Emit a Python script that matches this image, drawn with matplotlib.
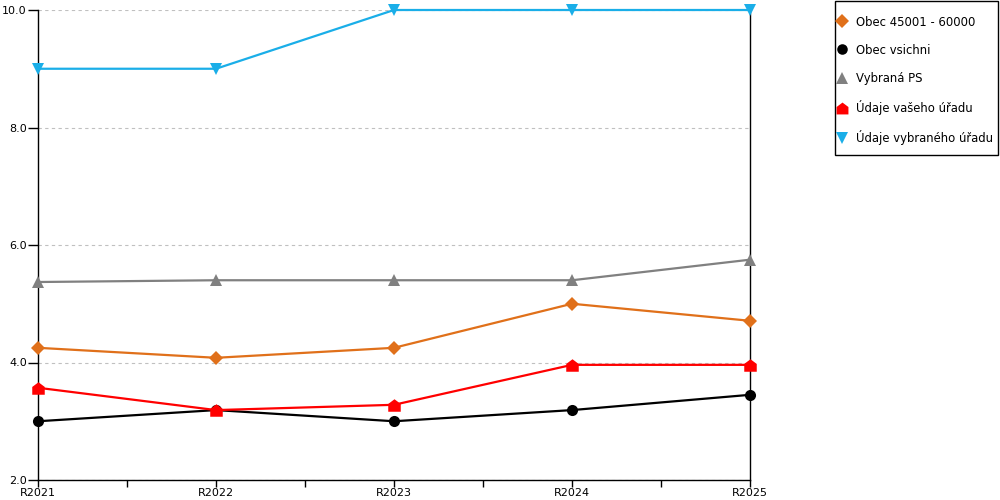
import matplotlib
matplotlib.use('Agg')
import matplotlib.pyplot as plt
import numpy as np
from matplotlib.path import Path
from matplotlib.lines import Line2D
from matplotlib.patches import Rectangle

plt.rcParams['font.family'] = ['DejaVu Sans']
plt.rcParams['font.size'] = 8

years = ['R2021', 'R2022', 'R2023', 'R2024', 'R2025']
obec_45001 = [4.25, 4.08, 4.25, 5.0, 4.71]
obec_vsichni = [3.0, 3.19, 3.0, 3.19, 3.45]
vybrana_ps = [5.37, 5.4, 5.4, 5.4, 5.75]
udaje_vaseho = [3.57, 3.19, 3.28, 3.96, 3.96]
udaje_vybraneho = [9.0, 9.0, 10.0, 10.0, 10.0]

# house shaped marker for red series
house = Path([(-1, -1), (1, -1), (1, 0.25), (0, 1), (-1, 0.25), (-1, -1)],
             [Path.MOVETO, Path.LINETO, Path.LINETO, Path.LINETO, Path.LINETO, Path.CLOSEPOLY])

series = [
    ('Obec 45001 - 60000', obec_45001, '#e0701a', 'D', 7),
    ('Obec vsichni', obec_vsichni, '#000000', 'o', 8),
    ('Vybraná PS', vybrana_ps, '#808080', '^', 9),
    ('Údaje vašeho úřadu', udaje_vaseho, '#ff0000', house, 9),
    ('Údaje vybraného úřadu', udaje_vybraneho, '#1aaee8', 'v', 9),
]

fig = plt.figure(figsize=(10, 5), dpi=100)
ax = fig.add_axes([0.038, 0.04, 0.712, 0.94])

x = np.arange(len(years))
handles = []
for label, vals, col, mk, ms in series:
    ax.plot(x, vals, color=col, lw=1.6, marker=mk, markersize=ms,
            markeredgewidth=0, clip_on=False, zorder=3)
    handles.append(Line2D([], [], color=col, marker=mk, markersize=ms * 0.95,
                          markeredgewidth=0, linestyle='none', label=label))

ax.set_xlim(0, len(years) - 1)
ax.set_ylim(2, 10)
ax.set_yticks([2, 4, 6, 8, 10])
ax.set_yticklabels(['2.0', '4.0', '6.0', '8.0', '10.0'])
ax.set_xticks(x)
ax.set_xticklabels(years)
ax.set_xticks(x[:-1] + 0.5, minor=True)
ax.tick_params(axis='x', which='both', direction='out', length=5, width=1, pad=0.5)
ax.tick_params(axis='y', direction='out', length=7, width=1, pad=1)
ax.yaxis.grid(True, linestyle=(0, (3, 3)), color='#c0c0c0', lw=0.8)
ax.set_axisbelow(True)
ax.spines['top'].set_visible(False)
for s in ['left', 'bottom', 'right']:
    ax.spines[s].set_color('black')
    ax.spines[s].set_linewidth(1)

# legend box drawn separately, entries placed inside it
fig.patches.append(Rectangle((0.8345, 0.69), 0.163, 0.308, transform=fig.transFigure,
                             fill=False, edgecolor='black', lw=1))
leg = fig.legend(handles=handles, loc='upper left', bbox_to_anchor=(0.837, 0.969),
                 frameon=False, fontsize=8.4, labelspacing=1.29, handlelength=0.8,
                 handletextpad=0.8, borderpad=0, borderaxespad=0)

fig.savefig('out.png', dpi=100)
